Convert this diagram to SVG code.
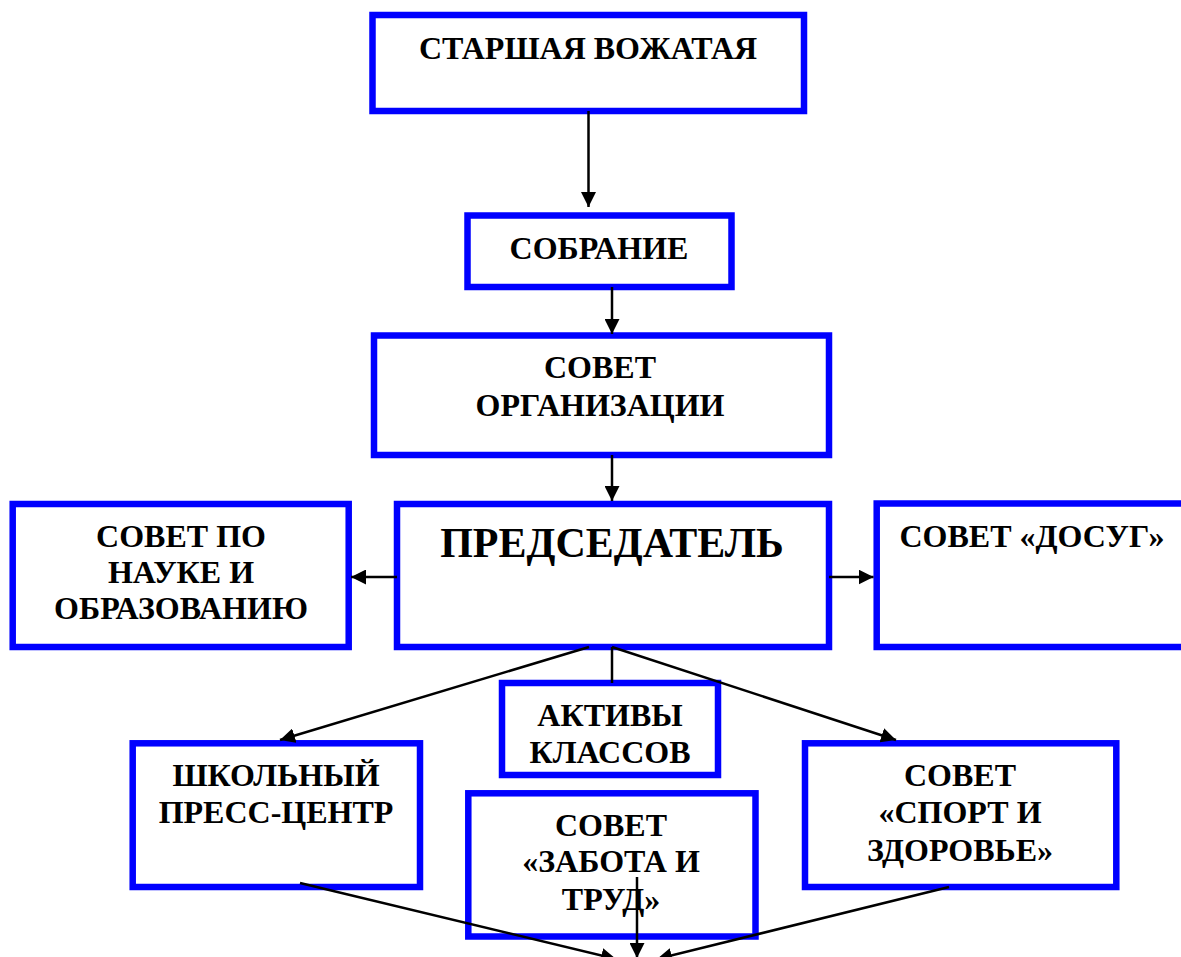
<svg xmlns="http://www.w3.org/2000/svg" width="1181" height="957" viewBox="0 0 1181 957">
<style>
.box{fill:#fff;stroke:#0000ff;stroke-width:6.5}
.t{font-family:"Liberation Serif","Times New Roman",serif;font-weight:bold;font-size:32px;fill:#000;text-anchor:middle}
.big{font-size:42px}
.c{stroke:#000;stroke-width:2.5;fill:none}
.a{marker-end:url(#ah)}
</style>
<defs>
<marker id="ah" markerUnits="userSpaceOnUse" markerWidth="15" markerHeight="15" refX="15" refY="7.5" orient="auto">
<path d="M0,0 L15,7.5 L0,15 z" fill="#000"/>
</marker>
</defs>
<rect width="1181" height="957" fill="#fff"/>
<g id="n-vozhataya"><rect class="box" x="372.5" y="15" width="431.5" height="96"/><text class="t" x="588" y="59">СТАРШАЯ ВОЖАТАЯ</text></g>
<g id="n-sobranie"><rect class="box" x="467.5" y="215.5" width="264" height="71.5"/><text class="t" x="599" y="259">СОБРАНИЕ</text></g>
<g id="n-sovet-org"><rect class="box" x="374" y="335.5" width="455" height="119.5"/><text class="t" x="600" y="378">СОВЕТ</text><text class="t" x="600" y="416">ОРГАНИЗАЦИИ</text></g>
<g id="n-predsedatel"><rect class="box" x="397" y="504" width="432" height="143"/><text class="t big" x="612" y="557">ПРЕДСЕДАТЕЛЬ</text></g>
<g id="n-nauka"><rect class="box" x="12.7" y="504" width="336" height="143"/><text class="t" x="181" y="547">СОВЕТ ПО</text><text class="t" x="181" y="583">НАУКЕ И</text><text class="t" x="181" y="619">ОБРАЗОВАНИЮ</text></g>
<g id="n-dosug"><rect class="box" x="876.7" y="503.5" width="320" height="143.5"/><text class="t" x="1032" y="547">СОВЕТ «ДОСУГ»</text></g>
<g id="n-aktivy"><rect class="box" x="502" y="683" width="216" height="92"/><text class="t" x="610" y="726">АКТИВЫ</text><text class="t" x="610" y="763">КЛАССОВ</text></g>
<g id="n-press"><rect class="box" x="132.7" y="743.3" width="287.3" height="143.7"/><text class="t" x="276" y="786">ШКОЛЬНЫЙ</text><text class="t" x="276" y="823">ПРЕСС-ЦЕНТР</text></g>
<g id="n-zabota"><rect class="box" x="468.3" y="793.3" width="287.2" height="143.2"/><text class="t" x="611" y="836">СОВЕТ</text><text class="t" x="611" y="872">«ЗАБОТА И</text><text class="t" x="611" y="910">ТРУД»</text></g>
<g id="n-sport"><rect class="box" x="805" y="743.3" width="311.3" height="143.7"/><text class="t" x="960" y="786">СОВЕТ</text><text class="t" x="960" y="823">«СПОРТ И</text><text class="t" x="960" y="861">ЗДОРОВЬЕ»</text></g>
<g id="connectors">
<line class="c a" x1="588.5" y1="111" x2="588.5" y2="207"/>
<line class="c a" x1="612" y1="287" x2="612" y2="334"/>
<line class="c a" x1="612" y1="455" x2="612" y2="501"/>
<line class="c a" x1="397" y1="577" x2="351" y2="577"/>
<line class="c a" x1="829" y1="577" x2="873.5" y2="577"/>
<line class="c a" x1="589" y1="647" x2="280" y2="740"/>
<line class="c" x1="612" y1="647" x2="612" y2="683"/>
<line class="c a" x1="612" y1="647" x2="896" y2="740"/>
<line class="c a" x1="300" y1="883" x2="616" y2="959"/>
<line class="c a" x1="637" y1="877" x2="637" y2="958"/>
<line class="c a" x1="949" y1="887" x2="657" y2="959"/>
</g>
</svg>
